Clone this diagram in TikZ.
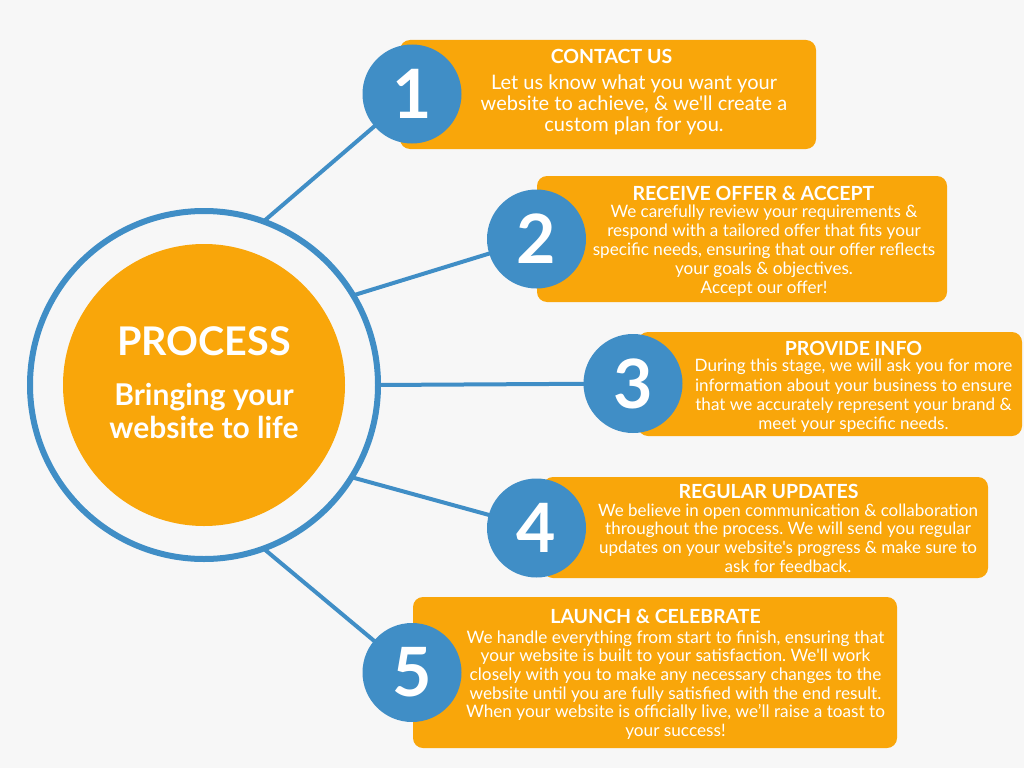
\documentclass[tikz,border=0pt]{standalone}
\usepackage{fontspec}
\setmainfont{Lato}[Ligatures=TeXOff]
\frenchspacing
\usetikzlibrary{backgrounds}
\definecolor{pagebg}{HTML}{F7F7F7}
\definecolor{accent}{HTML}{F9A60A}
\definecolor{steel}{HTML}{408EC6}
\tikzset{
  stepcard/.style={draw=none, fill=accent, rounded corners=10pt, inner sep=0pt, outer sep=0pt},
  stepnum/.style={circle, fill=steel, inner sep=0pt, outer sep=0pt, minimum size=99pt,
    text=white, font=\fontsize{68}{68}\selectfont\bfseries},
  cardtitle/.style={text=white, inner sep=0pt, font=\fontsize{19.5}{21}\selectfont\bfseries},
  cardbody/.style={text=white, inner sep=0pt, align=center},
  spoke/.style={draw=steel, line width=4pt},
}
\begin{document}
\begin{tikzpicture}[x=1pt, y=-1pt]
\useasboundingbox (0,0) rectangle (1024,768);

% hub
\node[circle, draw=steel, line width=6pt, minimum size=348pt, inner sep=0pt, outer sep=0pt] (ring) at (204,385) {};
\node[circle, fill=accent, minimum size=282pt, inner sep=0pt] (hub) at (204,385) {};
\node[text=white, inner sep=0pt, font=\fontsize{39.5}{41}\selectfont\bfseries] (hubtitle) at (204,341.7) {PROCESS};
\node[text=white, inner sep=0pt, align=center, font=\fontsize{30}{33.3}\selectfont\bfseries] (hubsub) at (204,411) {Bringing your\\website to life};

% cards
\node[stepcard, minimum width=416pt, minimum height=109pt] (c1) at (608,94.5) {};
\node[stepcard, minimum width=410pt, minimum height=126pt] (c2) at (742,239) {};
\node[stepcard, minimum width=384pt, minimum height=104pt] (c3) at (830,384) {};
\node[stepcard, minimum width=445pt, minimum height=101pt] (c4) at (765.5,527.5) {};
\node[stepcard, minimum width=484pt, minimum height=151pt] (c5) at (655,672.5) {};

% numbered discs
\node[stepnum] (n1) at (412,94) {1};
\node[stepnum] (n2) at (536.5,239) {2};
\node[stepnum] (n3) at (633,383.5) {3};
\node[stepnum] (n4) at (536.5,528) {4};
\node[stepnum] (n5) at (412,672.5) {5};

% card texts
\node[cardtitle] (t1) at (611.5,56.3) {CONTACT US};
\node[cardbody, font=\fontsize{20}{21.3}\selectfont] (b1) at (634,105)
  {Let us know what you want your\\website to achieve, \& we'll create a\\custom plan for you.};

\node[cardtitle] (t2) at (753.5,193) {RECEIVE OFFER \& ACCEPT};
\node[cardbody, font=\fontsize{17.1}{19}\selectfont] (b2) at (764,251)
  {We carefully review your requirements \&\\respond with a tailored offer that fits your\\specific needs, ensuring that our offer reflects\\your goals \& objectives.\\Accept our offer!};

\node[cardtitle] (t3) at (853.5,348) {PROVIDE INFO};
\node[cardbody, font=\fontsize{17.1}{19.3}\selectfont] (b3) at (853.5,396)
  {During this stage, we will ask you for more\\information about your business to ensure\\that we accurately represent your brand \&\\meet your specific needs.};

\node[cardtitle] (t4) at (768.5,491.7) {REGULAR UPDATES};
\node[cardbody, font=\fontsize{17}{18.8}\selectfont] (b4) at (788,538)
  {We believe in open communication \& collaboration\\throughout the process. We will send you regular\\updates on your website's progress \& make sure to\\ask for feedback.};

\node[cardtitle] (t5) at (655.5,616.7) {LAUNCH \& CELEBRATE};
\node[cardbody, font=\fontsize{17.2}{18.7}\selectfont] (b5) at (675.5,685)
  {We handle everything from start to finish, ensuring that\\your website is built to your satisfaction. We'll work\\closely with you to make any necessary changes to the\\website until you are fully satisfied with the end result.\\When your website is officially live, we’ll raise a toast to\\your success!};

% page and spokes underneath
\begin{pgfonlayer}{background}
  \fill[pagebg] (0,0) rectangle (1024,768);
  \draw[spoke] (ring.70) -- (n1.center);
  \draw[spoke] (ring.31) -- (n2.center);
  \draw[spoke] (ring.0) -- (n3.center);
  \draw[spoke] (ring.-32) -- (n4.center);
  \draw[spoke] (ring.-70) -- (n5.center);
\end{pgfonlayer}
\end{tikzpicture}
\end{document}
